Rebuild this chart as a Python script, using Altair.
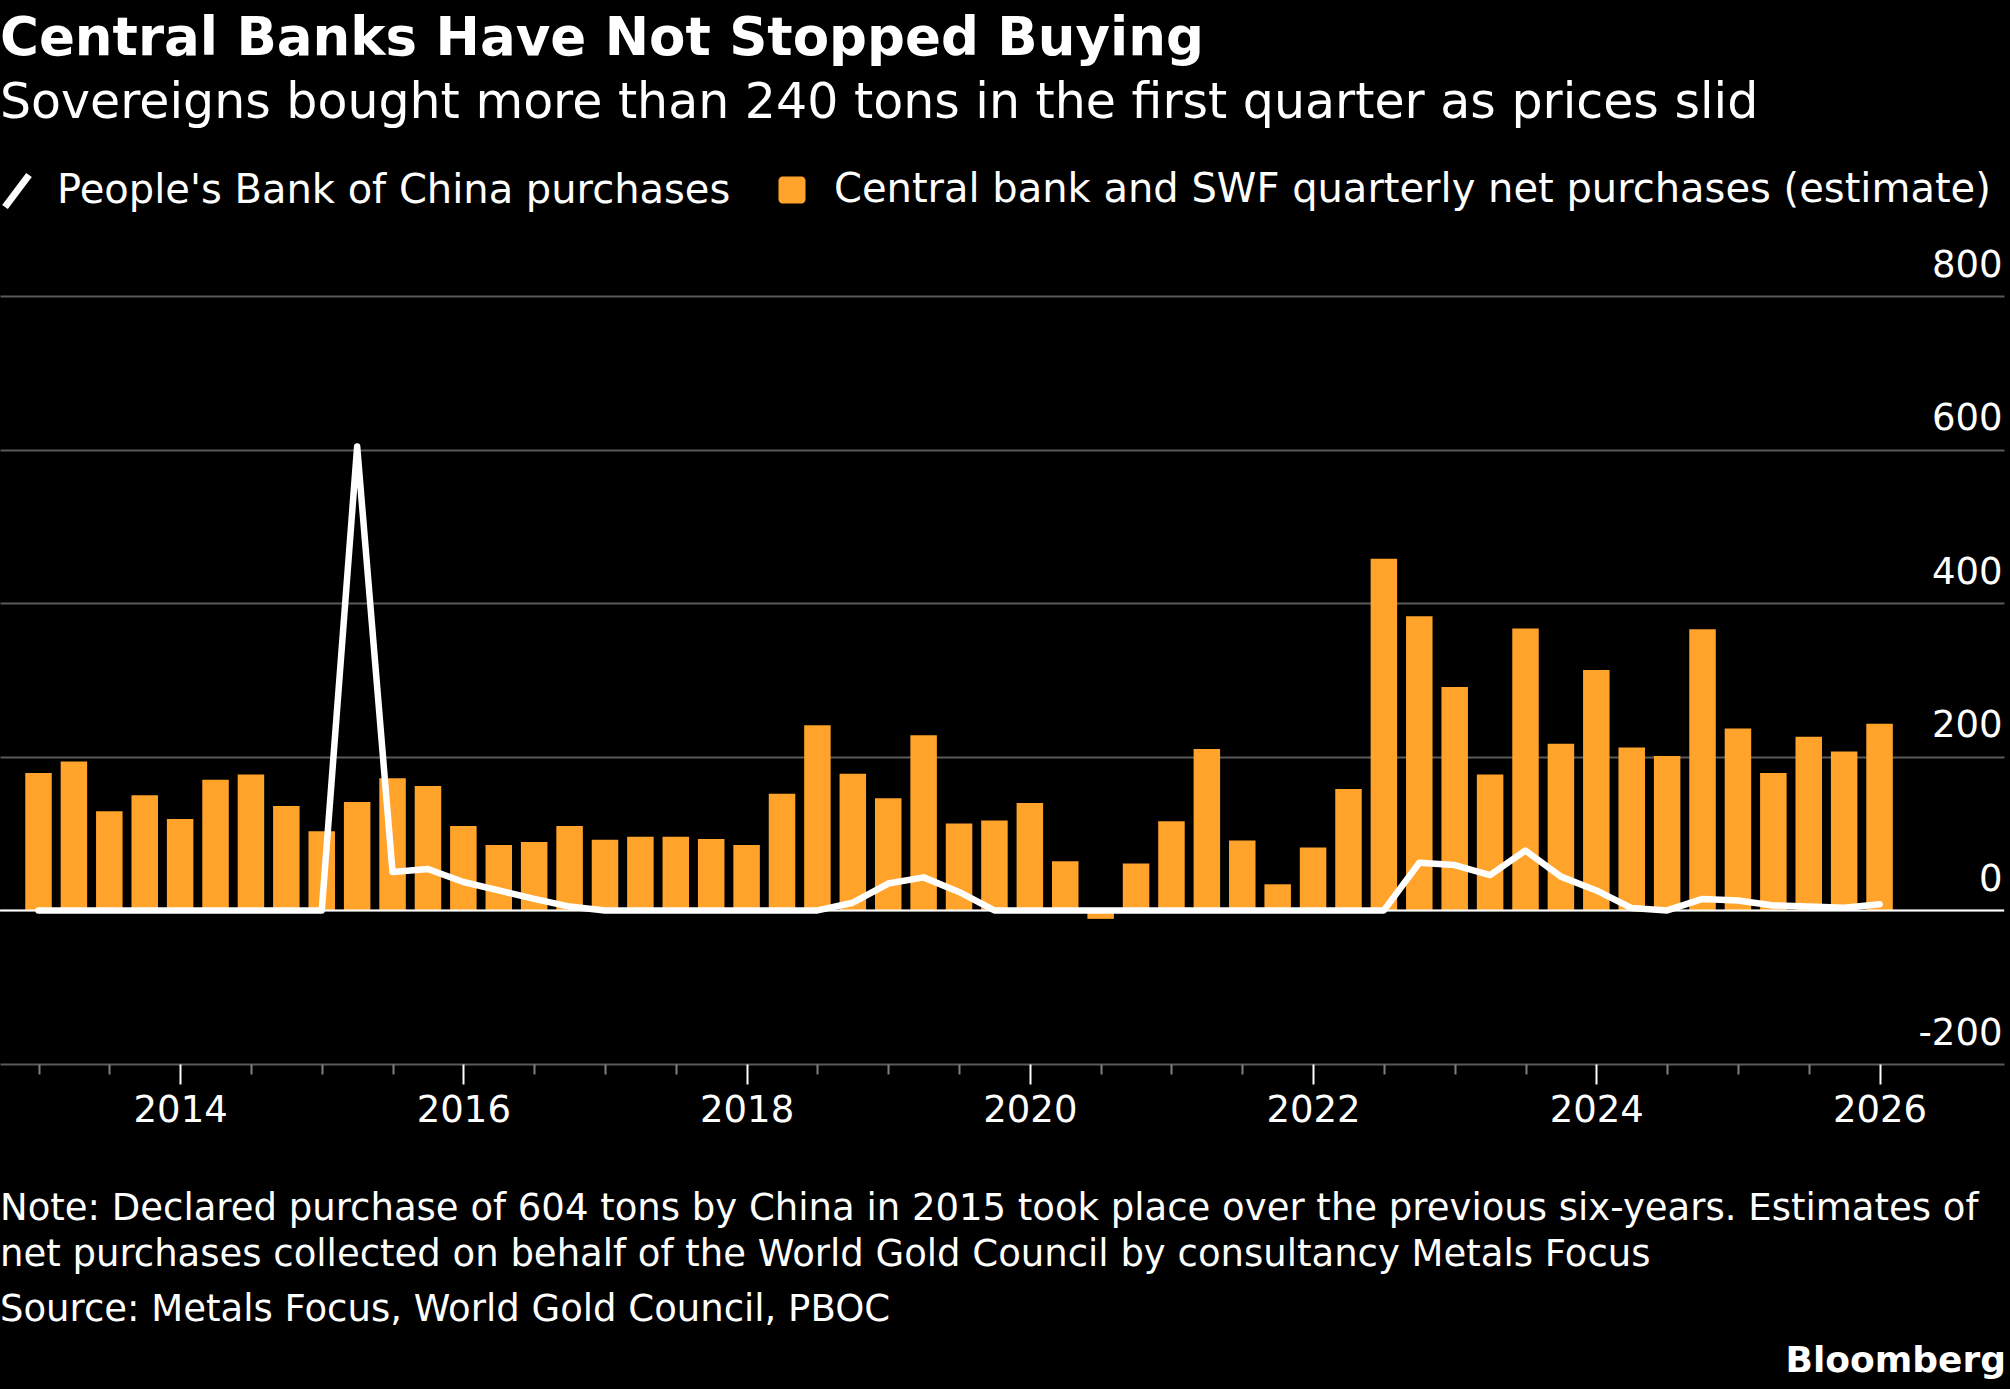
import altair as alt
import pandas as pd

FONT = "DejaVu Sans"
ORANGE = "#ffa32b"
GRID = "#5a5a5a"

# ---- data -------------------------------------------------------------
quarters = [f"{y} Q{q}" for y in range(2013, 2027) for q in (1, 2, 3, 4)][:53]
quarter_pos = [int(s[:4]) + (int(s[-1]) - 1) * 0.25 for s in quarters]

cb_net = [179, 194, 129, 150, 119, 170, 177, 136, 103, 141,
          172, 162, 110, 85, 89, 110, 92, 96, 96, 93,
          85, 152, 241, 178, 146, 228, 113, 117, 140, 64,
          -11, 61, 116, 210, 91, 34, 82, 158, 458, 383,
          291, 177, 367, 217, 313, 212, 201, 366, 237, 179,
          226, 207, 243]

pboc = [0, 0, 0, 0, 0, 0, 0, 0, 0, 604,
        50, 54, 37, 26, 15, 5, 0, 0, 0, 0,
        0, 0, 0, 10, 35, 43, 24, 0, 0, 0,
        0, 0, 0, 0, 0, 0, 0, 0, 0, 62,
        59, 46, 78, 44, 26, 3, 0, 15, 13, 6.5,
        5, 3.5, 8]

y_ticks = [-200, 0, 200, 400, 600, 800]

pboc_name = "People's Bank of China purchases"
cb_name = "Central bank and SWF quarterly net purchases (estimate)"

title_text = "Central Banks Have Not Stopped Buying"
subtitle_text = "Sovereigns bought more than 240 tons in the first quarter as prices slid"
note1 = "Note: Declared purchase of 604 tons by China in 2015 took place over the previous six-years. Estimates of"
note2 = "net purchases collected on behalf of the World Gold Council by consultancy Metals Focus"
source = "Source: Metals Focus, World Gold Council, PBOC"
brand = "Bloomberg"

df = pd.DataFrame({
    "quarter": quarters,
    "t": quarter_pos,
    "cb": cb_net,
    "pboc": pboc,
    "cb_name": cb_name,
    "pboc_name": pboc_name,
})

# ---- scales / axes ----------------------------------------------------
W, H = 2004, 768
xscale = alt.Scale(domain=[2012.7634, 2026.8434], nice=False, zero=False)
yscale = alt.Scale(domain=[-200, 800], nice=False, zero=False)

major = "datum.value % 2 == 0"
xaxis = alt.Axis(
    values=quarter_pos,
    labelExpr=f"{major} ? format(datum.value, 'd') : ''",
    tickSize={"condition": {"test": major, "value": 20}, "value": 10},
    tickColor={"condition": {"test": major, "value": "#ffffff"}, "value": "#808080"},
    tickWidth=2,
    domain=False,
    grid=False,
    labelColor="white",
    labelFont=FONT,
    labelFontSize=37,
    labelPadding=8,
    labelOverlap=False,
    labelFlush=False,
    title=None,
)
yaxis = alt.Axis(
    orient="right",
    values=y_ticks,
    labelExpr="toString(datum.value)",
    grid=True,
    gridColor=GRID,
    gridWidth=2,
    domain=False,
    ticks=False,
    tickSize=0,
    labelAlign="right",
    labelBaseline="alphabetic",
    labelOffset=-20,
    labelPadding=-2,
    labelColor="white",
    labelFont=FONT,
    labelFontSize=37,
    title=None,
)

slash = "M-0.75,1L0.75,-1"
rounded = ("M-1,-0.7 A0.3,0.3 0 0 1 -0.7,-1 L0.7,-1 A0.3,0.3 0 0 1 1,-0.7 "
           "L1,0.7 A0.3,0.3 0 0 1 0.7,1 L-0.7,1 A0.3,0.3 0 0 1 -1,0.7 Z")

bars = alt.Chart(df).mark_bar(size=26.5).encode(
    x=alt.X("t:Q", scale=xscale, axis=xaxis),
    y=alt.Y("cb:Q", scale=yscale, axis=yaxis),
    color=alt.Color(
        "cb_name:N",
        scale=alt.Scale(domain=[cb_name], range=[ORANGE]),
        legend=alt.Legend(
            orient="none", legendX=772, legendY=-126, title=None,
            symbolType=rounded, symbolSize=729, symbolStrokeWidth=0,
            symbolOpacity=1,
            labelFont=FONT, labelFontSize=40, labelColor="white",
            labelOffset=22, labelLimit=3000, padding=0,
        ),
    ),
)

zero = alt.Chart(pd.DataFrame({"v": [0]})).mark_rule(color="white", strokeWidth=2).encode(
    y=alt.Y("v:Q", scale=yscale)
)

line = alt.Chart(df).mark_line(strokeWidth=6.5, strokeCap="round", strokeJoin="round").encode(
    x=alt.X("t:Q", scale=xscale),
    y=alt.Y("pboc:Q", scale=yscale),
    stroke=alt.Stroke(
        "pboc_name:N",
        scale=alt.Scale(domain=[pboc_name], range=["#ffffff"]),
        legend=alt.Legend(
            orient="none", legendX=-3, legendY=-125, title=None,
            symbolType=slash, symbolSize=1024, symbolStrokeWidth=7,
            labelFont=FONT, labelFontSize=40, labelColor="white",
            labelOffset=20, labelLimit=3000, padding=0,
        ),
    ),
)


def foot(txt, y, size=37, weight="normal", align="left", x=0):
    return alt.Chart(pd.DataFrame({"txt": [txt]})).mark_text(
        align=align, baseline="alphabetic", font=FONT, fontSize=size,
        fontWeight=weight, color="white",
    ).encode(text="txt:N", x=alt.value(x), y=alt.value(y))


chart = alt.layer(
    bars, zero, line,
    foot(note1, 924), foot(note2, 970), foot(source, 1025),
    foot(brand, 1076, size=36, weight="bold", align="right", x=2006),
).resolve_scale(color="independent", stroke="independent").properties(
    width=W,
    height=H,
    background="black",
    padding={"left": 0, "top": 296, "right": 6, "bottom": 325},
    autosize=alt.AutoSizeParams(type="none"),
    title=alt.TitleParams(
        text=title_text,
        subtitle=subtitle_text,
        anchor="start",
        frame="group",
        font=FONT,
        fontSize=53,
        fontWeight="bold",
        color="white",
        subtitleFont=FONT,
        subtitleFontSize=49,
        subtitleColor="white",
        subtitlePadding=13,
        offset=42,
    ),
).configure_view(strokeWidth=0)

chart.save("out.html", embed_options={"renderer": "svg", "actions": False})
